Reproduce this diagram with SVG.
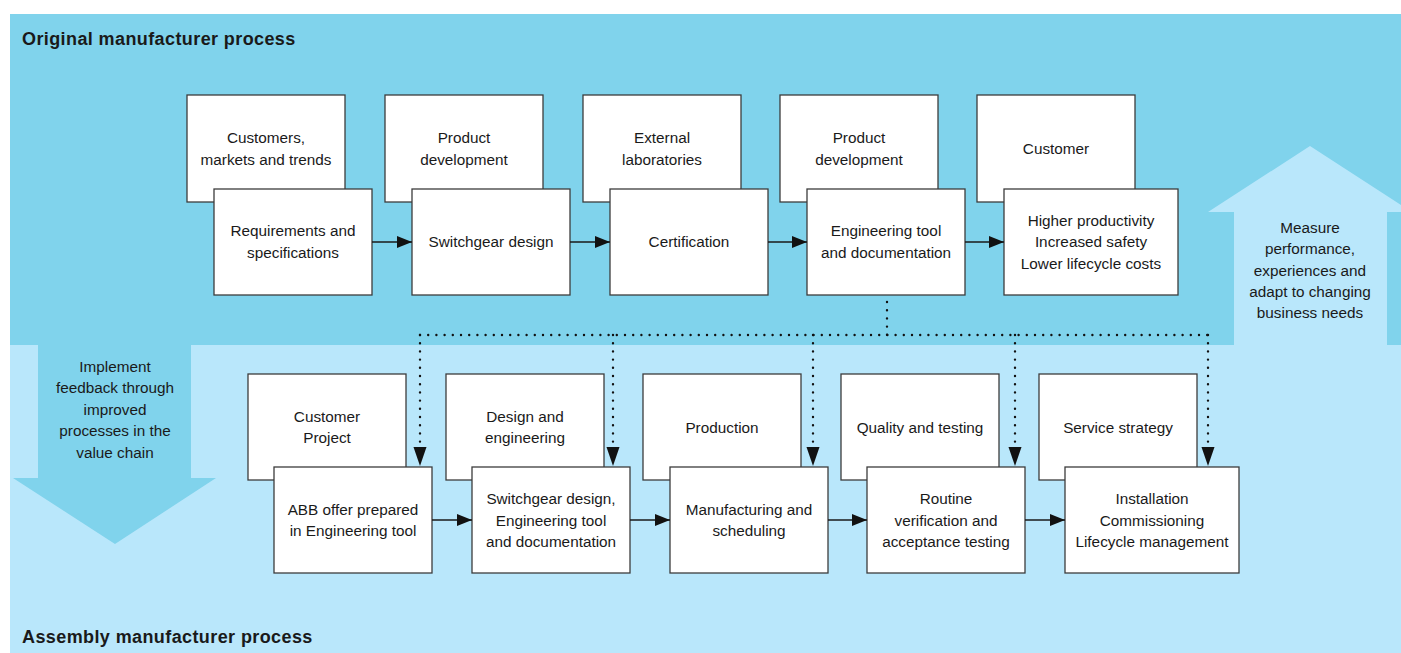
<svg xmlns="http://www.w3.org/2000/svg" width="1401" height="653" viewBox="0 0 1401 653">
  <defs>
    <style>
      .box { fill: #ffffff; stroke: #3c3c3c; stroke-width: 1.3; }
      .t { font-family: "Liberation Sans", Arial, sans-serif; font-size: 15.3px; fill: #1a1a1a; text-anchor: middle; }
      .title { font-family: "Liberation Sans", Arial, sans-serif; font-size: 18px; font-weight: bold; letter-spacing: 0.4px; fill: #1a1a1a; }
      .solid { stroke: #1a1a1a; stroke-width: 1.6; fill: none; }
      .dot { stroke: #111111; stroke-width: 2.4; fill: none; stroke-linecap: round; stroke-dasharray: 0 8.2; }
    </style>
    <marker id="ah" viewBox="0 0 15 12" markerWidth="15" markerHeight="12" refX="15" refY="6" orient="auto" markerUnits="userSpaceOnUse">
      <path d="M0,0 L15,6 L0,12 Z" fill="#111111"/>
    </marker>
  </defs>

  <!-- backgrounds -->
  <rect x="10" y="14" width="1391" height="332" fill="#80D3EC"/>
  <rect x="10" y="345" width="1391" height="308" fill="#B9E7FB"/>
  <!-- up arrow -->
  <polygon points="1310,146 1401,205 1401,212 1387,212 1387,346 1234,346 1234,212 1208,212" fill="#B9E7FB"/>
  <!-- down arrow -->
  <polygon points="38,345 191,345 191,478 216,478 115,544 13,478 38,478" fill="#80D3EC"/>

  <text class="title" x="22" y="45">Original manufacturer process</text>
  <text class="title" x="22" y="643">Assembly manufacturer process</text>

  <g id="measure-text">
    <text class="t" x="1310" y="233">Measure</text>
    <text class="t" x="1310" y="254">performance,</text>
    <text class="t" x="1310" y="276">experiences and</text>
    <text class="t" x="1310" y="297">adapt to changing</text>
    <text class="t" x="1310" y="318">business needs</text>
  </g>
  <g id="implement-text">
    <text class="t" x="115" y="372">Implement</text>
    <text class="t" x="115" y="393">feedback through</text>
    <text class="t" x="115" y="415">improved</text>
    <text class="t" x="115" y="436">processes in the</text>
    <text class="t" x="115" y="458">value chain</text>
  </g>

  <!-- top back boxes -->
  <g id="customers-markets">
    <rect class="box" x="187" y="95" width="158" height="107"/>
    <text class="t" x="266" y="143">Customers,</text>
    <text class="t" x="266" y="165">markets and trends</text>
  </g>
  <g id="product-development-1">
    <rect class="box" x="385" y="95" width="158" height="107"/>
    <text class="t" x="464" y="143">Product</text>
    <text class="t" x="464" y="165">development</text>
  </g>
  <g id="external-laboratories">
    <rect class="box" x="583" y="95" width="158" height="107"/>
    <text class="t" x="662" y="143">External</text>
    <text class="t" x="662" y="165">laboratories</text>
  </g>
  <g id="product-development-2">
    <rect class="box" x="780" y="95" width="158" height="107"/>
    <text class="t" x="859" y="143">Product</text>
    <text class="t" x="859" y="165">development</text>
  </g>
  <g id="customer">
    <rect class="box" x="977" y="95" width="158" height="107"/>
    <text class="t" x="1056" y="154">Customer</text>
  </g>

  <!-- top front boxes -->
  <g id="requirements">
    <rect class="box" x="214" y="189" width="158" height="106"/>
    <text class="t" x="293" y="236">Requirements and</text>
    <text class="t" x="293" y="258">specifications</text>
  </g>
  <g id="switchgear-design">
    <rect class="box" x="412" y="189" width="158" height="106"/>
    <text class="t" x="491" y="247">Switchgear design</text>
  </g>
  <g id="certification">
    <rect class="box" x="610" y="189" width="158" height="106"/>
    <text class="t" x="689" y="247">Certification</text>
  </g>
  <g id="engineering-tool">
    <rect class="box" x="807" y="189" width="158" height="106"/>
    <text class="t" x="886" y="236">Engineering tool</text>
    <text class="t" x="886" y="258">and documentation</text>
  </g>
  <g id="benefits">
    <rect class="box" x="1004" y="189" width="174" height="106"/>
    <text class="t" x="1091" y="226">Higher productivity</text>
    <text class="t" x="1091" y="247">Increased safety</text>
    <text class="t" x="1091" y="269">Lower lifecycle costs</text>
  </g>

  <!-- bottom back boxes -->
  <g id="customer-project">
    <rect class="box" x="248" y="374" width="158" height="106"/>
    <text class="t" x="327" y="422">Customer</text>
    <text class="t" x="327" y="443">Project</text>
  </g>
  <g id="design-engineering">
    <rect class="box" x="446" y="374" width="158" height="106"/>
    <text class="t" x="525" y="422">Design and</text>
    <text class="t" x="525" y="443">engineering</text>
  </g>
  <g id="production">
    <rect class="box" x="643" y="374" width="158" height="106"/>
    <text class="t" x="722" y="433">Production</text>
  </g>
  <g id="quality-testing">
    <rect class="box" x="841" y="374" width="158" height="106"/>
    <text class="t" x="920" y="433">Quality and testing</text>
  </g>
  <g id="service-strategy">
    <rect class="box" x="1039" y="374" width="158" height="106"/>
    <text class="t" x="1118" y="433">Service strategy</text>
  </g>

  <!-- bottom front boxes -->
  <g id="abb-offer">
    <rect class="box" x="274" y="467" width="158" height="106"/>
    <text class="t" x="353" y="515">ABB offer prepared</text>
    <text class="t" x="353" y="536">in Engineering tool</text>
  </g>
  <g id="switchgear-engineering">
    <rect class="box" x="472" y="467" width="158" height="106"/>
    <text class="t" x="551" y="504">Switchgear design,</text>
    <text class="t" x="551" y="526">Engineering tool</text>
    <text class="t" x="551" y="547">and documentation</text>
  </g>
  <g id="manufacturing">
    <rect class="box" x="670" y="467" width="158" height="106"/>
    <text class="t" x="749" y="515">Manufacturing and</text>
    <text class="t" x="749" y="536">scheduling</text>
  </g>
  <g id="routine-verification">
    <rect class="box" x="867" y="467" width="158" height="106"/>
    <text class="t" x="946" y="504">Routine</text>
    <text class="t" x="946" y="526">verification and</text>
    <text class="t" x="946" y="547">acceptance testing</text>
  </g>
  <g id="installation">
    <rect class="box" x="1065" y="467" width="174" height="106"/>
    <text class="t" x="1152" y="504">Installation</text>
    <text class="t" x="1152" y="526">Commissioning</text>
    <text class="t" x="1152" y="547">Lifecycle management</text>
  </g>

  <!-- connectors -->
  <g id="connectors">
    <line class="solid" x1="372" y1="242" x2="412" y2="242" marker-end="url(#ah)"/>
    <line class="solid" x1="570" y1="242" x2="610" y2="242" marker-end="url(#ah)"/>
    <line class="solid" x1="768" y1="242" x2="807" y2="242" marker-end="url(#ah)"/>
    <line class="solid" x1="965" y1="242" x2="1004" y2="242" marker-end="url(#ah)"/>
    <line class="solid" x1="432" y1="520" x2="472" y2="520" marker-end="url(#ah)"/>
    <line class="solid" x1="630" y1="520" x2="670" y2="520" marker-end="url(#ah)"/>
    <line class="solid" x1="828" y1="520" x2="867" y2="520" marker-end="url(#ah)"/>
    <line class="solid" x1="1025" y1="520" x2="1065" y2="520" marker-end="url(#ah)"/>

    <path class="dot" d="M887,302 L887,335"/>
    <path class="dot" d="M420,335 L1208,335"/>
    <path class="dot" d="M420,335 L420,446"/>
    <path class="dot" d="M613,335 L613,446"/>
    <path class="dot" d="M813,335 L813,446"/>
    <path class="dot" d="M1015,335 L1015,446"/>
    <path class="dot" d="M1208,335 L1208,446"/>
    <path d="M413.5,447 L426.5,447 L420,466 Z" fill="#111111"/>
    <path d="M606.5,447 L619.5,447 L613,466 Z" fill="#111111"/>
    <path d="M806.5,447 L819.5,447 L813,466 Z" fill="#111111"/>
    <path d="M1008.5,447 L1021.5,447 L1015,466 Z" fill="#111111"/>
    <path d="M1201.5,447 L1214.5,447 L1208,466 Z" fill="#111111"/>
  </g>
</svg>
